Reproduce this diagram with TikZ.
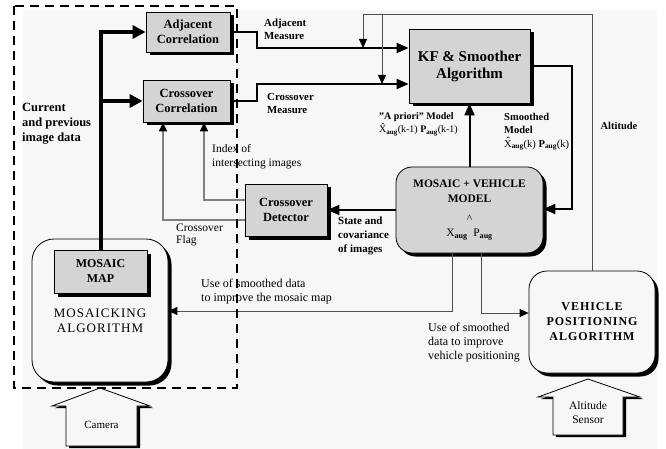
\documentclass[tikz,border=0pt]{standalone}
\usepackage{fontspec}
\setmainfont{Liberation Serif}
\newfontfamily\spacedfont[LetterSpace=8]{Liberation Serif}
\usetikzlibrary{arrows.meta,shadows}
\definecolor{bgc}{HTML}{F7F7F7}
\definecolor{boxc}{HTML}{D4D4D4}
\definecolor{greyln}{HTML}{808080}
\definecolor{darkln}{HTML}{505050}
\newcommand\fs[2]{\fontsize{#1}{#2}\selectfont}
\begin{document}
\begin{tikzpicture}[x=1pt,y=-1pt,
  box/.style={draw=black, line width=0.8pt, fill=boxc, inner sep=0pt, align=center,
    drop shadow={shadow xshift=3.5pt, shadow yshift=-3.5pt, opacity=1, fill=black}},
  lbl/.style={inner sep=0pt, align=left, anchor=west},
  bigtip/.style={-{Triangle[length=13pt,width=13pt]}},
  midtip/.style={-{Triangle[length=12pt,width=10pt]}},
  smalltip/.style={-{Triangle[length=9pt,width=8pt,color=black]}},
  thickln/.style={line width=4pt},
  medln/.style={line width=2pt},
  greyline/.style={draw=greyln, line width=1.5pt},
  altline/.style={draw=darkln, line width=1pt},
  useline/.style={draw=darkln, line width=1pt},
  blockarrow/.style={fill=bgc, draw=black, line width=0.8pt}
]
\useasboundingbox (0,0) rectangle (666,449);
\fill[bgc] (23,10) rectangle (657,449);

% boxes
\node[box, minimum width=84pt, minimum height=40pt, font=\fs{12.5}{15}\bfseries] (adj) at (188,32) {Adjacent\\Correlation};
\node[box, minimum width=87pt, minimum height=42pt, font=\fs{12.5}{15}\bfseries] (cc) at (186.5,101) {Crossover\\Correlation};
\node[box, minimum width=82pt, minimum height=52pt, font=\fs{12.5}{15}\bfseries] (cd) at (286,210) {Crossover\\Detector};
\node[box, minimum width=121pt, minimum height=74pt, font=\fs{15}{17}\bfseries] (kf) at (469.5,66) {KF \& Smoother\\Algorithm};
\node[box, rounded corners=16pt, minimum width=147pt, minimum height=86pt, font=\fs{11.5}{15}\bfseries] (mv) at (469.5,210)
  {MOSAIC + VEHICLE\\MODEL\\[5pt]{\mdseries\textasciicircum}\hspace*{46pt}\\[-1pt]{\mdseries X}\textsubscript{aug}\ \ {\mdseries P}\textsubscript{aug}};
\node[box, fill=bgc, rounded corners=22pt, minimum width=136pt, minimum height=143pt, text height=44pt, font=\fs{13}{15}\spacedfont] (ma) at (100,310.5) {MOSAICKING\\ALGORITHM};
\node[box, minimum width=93pt, minimum height=43pt, font=\fs{12}{15}\bfseries] (mm) at (100.5,271.5) {MOSAIC\\MAP};
\node[box, fill=bgc, rounded corners=18pt, minimum width=126pt, minimum height=102pt, font=\fs{12}{15}\spacedfont\bfseries] (vp) at (592,322) {VEHICLE\\POSITIONING\\ALGORITHM};

% coordinates
\coordinate (am) at (257,48);
\coordinate (cm) at (257,84);
\coordinate (alt1) at (363,15);
\coordinate (alt2) at (382,15);
\coordinate (sm) at (572,209);
\coordinate (ix) at (204,200);
\coordinate (fl) at (163,220);
\coordinate (u1) at (452,311);
\coordinate (u2) at (481,313);

% connectors
\draw[thickln, bigtip] (mm.north) |- (adj.west);
\draw[thickln, bigtip] (mm.north) |- (cc.west);
\draw[medln, midtip] (adj.east) -| (am) -- (am -| kf.west);
\draw[medln, midtip] (cc.east) -| (cm) -- (cm -| kf.west);
\draw[altline, smalltip] (vp.north) |- (alt1) -- (alt1 |- am);
\draw[altline, smalltip] (alt2) -- (alt2 |- cm);
\draw[medln, midtip] (mv.north) -- (kf.south);
\draw[medln, midtip] (kf.east) -| (sm) -- (sm -| mv.east);
\draw[medln, midtip] (mv.west) -- (cd.east);
\draw[greyline, smalltip] (cd.west |- ix) -- (ix) -- (ix |- cc.south);
\draw[greyline, smalltip] (cd.west |- fl) -- (fl) -- (fl |- cc.south);
\draw[useline, smalltip] (mv.south -| u1) -- (u1) -- (u1 -| ma.east);
\draw[useline, smalltip] (mv.south -| u2) -- (u2) -- (u2 -| vp.west);

% labels
\node[lbl, font=\fs{12.5}{15}\bfseries] (cur) at (22,124) {Current\\and previous\\image data};
\node[lbl, font=\fs{10.8}{13}\bfseries] (adjm) at (264,29.5) {Adjacent\\Measure};
\node[lbl, font=\fs{10.8}{13}\bfseries] (crm) at (267,103.5) {Crossover\\Measure};
\node[lbl, font=\fs{11.5}{14}] (idx) at (212,157) {Index of\\intersecting images};
\node[lbl, font=\fs{11.5}{12.5}] (flag) at (176,235) {Crossover\\Flag};
\node[lbl, font=\fs{11}{14}\bfseries] (state) at (338,236) {State and\\covariance\\of images};
\node[lbl, font=\fs{10}{13}\bfseries] (apri) at (379,124.5) {"A priori" Model\\{\mdseries\^{X}}\textsubscript{aug}{\mdseries(k-1)} P\textsubscript{aug}{\mdseries(k-1)}};
\node[lbl, font=\fs{10.5}{13.5}\bfseries] (smo) at (504,131.5) {Smoothed\\Model\\{\mdseries\^{X}}\textsubscript{aug}{\mdseries(k)} P\textsubscript{aug}{\mdseries(k)}};
\node[inner sep=0pt, font=\fs{10.5}{13}\bfseries] (altlbl) at (619,126) {Altitude};
\node[lbl, font=\fs{12}{14}] (use1) at (201,292) {Use of smoothed data\\to improve the mosaic map};
\node[lbl, font=\fs{12}{14}] (use2) at (428,343) {Use of smoothed\\data to improve\\vehicle positioning};

% block arrows
\fill[black, shift={(3,2)}] (100,388) -- (150,406) -- (137,406) -- (137,446) -- (66,446) -- (66,406) -- (52,406) -- cycle;
\filldraw[blockarrow] (100,388) -- (150,406) -- (137,406) -- (137,446) -- (66,446) -- (66,406) -- (52,406) -- cycle;
\node[inner sep=0pt, font=\fs{11}{13}] (cam) at (101.5,425) {Camera};
\fill[black, shift={(3,2)}] (588,379) -- (640,397) -- (623,397) -- (623,435) -- (553,435) -- (553,397) -- (538,397) -- cycle;
\filldraw[blockarrow] (588,379) -- (640,397) -- (623,397) -- (623,435) -- (553,435) -- (553,397) -- (538,397) -- cycle;
\node[inner sep=0pt, align=center, font=\fs{11.5}{14}] (alts) at (588,413) {Altitude\\Sensor};

% dashed frame
\draw[line width=2pt, dash pattern=on 9pt off 6pt] (14,6) rectangle (237,388);
\end{tikzpicture}
\end{document}
